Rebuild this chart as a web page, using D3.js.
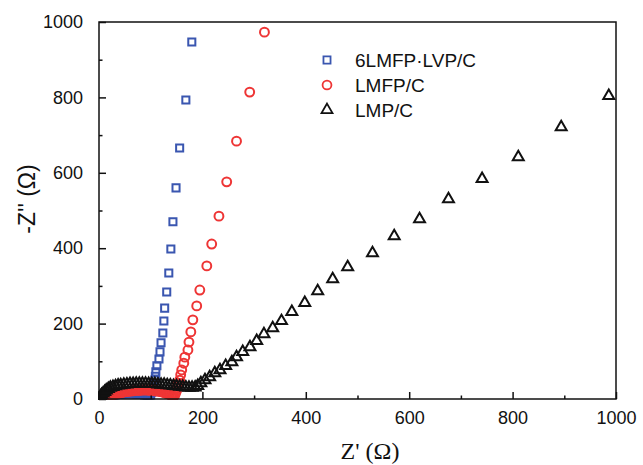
<!DOCTYPE html>
<html><head><meta charset="utf-8">
<script src="https://cdn.jsdelivr.net/npm/d3@7"></script>
<style>body{margin:0;background:#fff}svg{display:block}</style>
</head><body>
<svg id="chart" width="643" height="465"></svg>
<script>
// Data (Z' , -Z'' in ohm)
const seriesNames = ["6LMFP·LVP/C", "LMFP/C", "LMP/C"];
const blueRe = [2,4,6,8,10,13,16,19,22,25,28,31,34,37,40,43,46,49,52,55,58,61,64,67,70,73,76,79,82,85,88,91,94,97,100,
  102,104,105,106,108,109,110,112,116,118,120,123.5,125.5,127,131,135,139,143,149,156,168,179.5];
const blueIm = [1,2,3,4,5,6,7,8,9,10,11,11,12,12,13,13,14,14,14,14,14,14,14,14,14,13,13,13,12,12,11,11,10,10,11,
  18,25,32,40,50,60,72,88,106,125,149,175,207,241,284,334,398,470,560,666,793,947];
const redRe = [2,4,6,8,10,13,16,19,22,25,28,31,34,37,40,43,46,49,52,55,58,61,64,67,70,73,76,79,82,85,88,91,94,97,100,
  103,106,109,112,115,118,121,124,127,130,133,136,139,142,145,
  147,148,150,151,152,153,156,158,160,164,166,172,174,177.6,181.5,189,195,208.5,218,232,247,266,291.5,320];
const redIm = [1,2,3,4,5,6,7,9,10,11,12,13,14,15,16,17,18,19,20,20,21,21,22,22,23,23,23,23,24,24,24,24,24,23,23,
  23,22,22,21,21,20,19,18,17,15,14,12,10,8,7,
  11,16,22,29,36,42,50,64,77,95,111,130,151,178,210,247,289,353,411,485,576,684,814,973];
const blackRe = [1,3,5,8,11,14,18,22,27,32,37,42,48,54,60,66,72,78,84,90,96,102,108,114,120,126,132,138,144,150,
  156,162,168,174,180,186,191,
  197,205,214,224,234,245,257,266,278,292,305,319,336,353,373,398,423,452,481,529,571,620,676,741,811,894,986];
const blackIm = [3,7,11,15,19,23,27,30,32,34,36,37,38,39,40,40,41,41,41,41,40,40,40,39,38,38,37,36,35,34,
  33,32,31,30,30,31,35,
  42,50,58,69,77,88,98,111,125,138,154,172,188,207,231,255,286,318,350,387,432,477,530,584,642,721,804];
const majorTicks = [0,200,400,600,800,1000];
const minorTicks = [100,300,500,700,900];

const svg = d3.select("#chart");
const L = 99, R = 616, T = 22, B = 399;
const x = d3.scaleLinear().domain([0,1000]).range([L,R]);
const y = d3.scaleLinear().domain([0,1000]).range([B,T]);
const font = "Arial, 'Liberation Sans', sans-serif";

// data
const blue = "#3a56b0", red = "#ee3535", black = "#111";
const plot = svg.append("g");
const mk = (re, im) => re.map((d,i)=>({x:d,y:im[i]}));
const sq = d3.symbol().type(d3.symbolSquare).size(50);
const ci = d3.symbol().type(d3.symbolCircle).size(62);
const tr = d3.symbol().type(d3.symbolTriangle).size(52);

function draw(data, sym, color, sw){
  plot.append("g").selectAll("path").data(data).join("path")
    .attr("d", sym)
    .attr("transform", d=>`translate(${x(d.x)},${y(d.y)})`)
    .attr("fill","none").attr("stroke",color).attr("stroke-width",sw);
}
draw(mk(blueRe,blueIm), sq, blue, 2);
draw(mk(redRe,redIm), ci, red, 2);
draw(mk(blackRe,blackIm), tr, black, 2);

// white mask outside the frame so markers don't spill past the axes
svg.append("rect").attr("x",0).attr("y",B+1).attr("width",643).attr("height",465-B).attr("fill","#fff");
svg.append("rect").attr("x",0).attr("y",0).attr("width",L-1).attr("height",465).attr("fill","#fff");

// axes
const gx = svg.append("g").attr("transform",`translate(0,${B})`)
  .call(d3.axisBottom(x).tickValues(majorTicks).tickSize(-7).tickPadding(12).tickFormat(d3.format("d")));
const gxm = svg.append("g").attr("transform",`translate(0,${B})`)
  .call(d3.axisBottom(x).tickValues(minorTicks).tickSize(-3.5).tickFormat(""));
const gy = svg.append("g").attr("transform",`translate(${L},0)`)
  .call(d3.axisLeft(y).tickValues(majorTicks).tickSize(-7).tickPadding(16).tickFormat(d3.format("d")));
const gym = svg.append("g").attr("transform",`translate(${L},0)`)
  .call(d3.axisLeft(y).tickValues(minorTicks).tickSize(-3.5).tickFormat(""));
[gx,gxm,gy,gym].forEach(g=>{
  g.select(".domain").remove();
  g.selectAll("line").attr("stroke","#111").attr("stroke-width",1.5);
  g.selectAll("text").attr("font-family",font).attr("font-size",18).attr("fill","#111");
});
gx.selectAll("text").attr("dy","0.71em");

svg.append("rect").attr("x",L).attr("y",T).attr("width",R-L).attr("height",B-T)
  .attr("fill","none").attr("stroke","#111").attr("stroke-width",1.5);

// legend
const leg = [[sq,blue],[ci,red],[tr,black]];
leg.forEach((l,i)=>{
  const cy = 60 + i*25;
  svg.append("path").attr("d", l[0]).attr("transform",`translate(327,${cy})`)
    .attr("fill","none").attr("stroke",l[1]).attr("stroke-width",1.8);
  svg.append("text").attr("x",355).attr("y",cy).attr("dy","0.36em")
    .attr("font-family",font).attr("font-size",19).attr("fill","#111").text(seriesNames[i]);
});

// titles
svg.append("text").attr("x",370).attr("y",459).attr("text-anchor","middle")
  .attr("font-family","'Times New Roman','Liberation Serif',serif").attr("font-size",24).attr("fill","#111")
  .text("Z' (Ω)");
svg.append("text").attr("transform","translate(35,199) rotate(-90)").attr("text-anchor","middle")
  .attr("font-family",font).attr("font-size",23).attr("fill","#111")
  .text("-Z'' (Ω)");
</script>
</body></html>
